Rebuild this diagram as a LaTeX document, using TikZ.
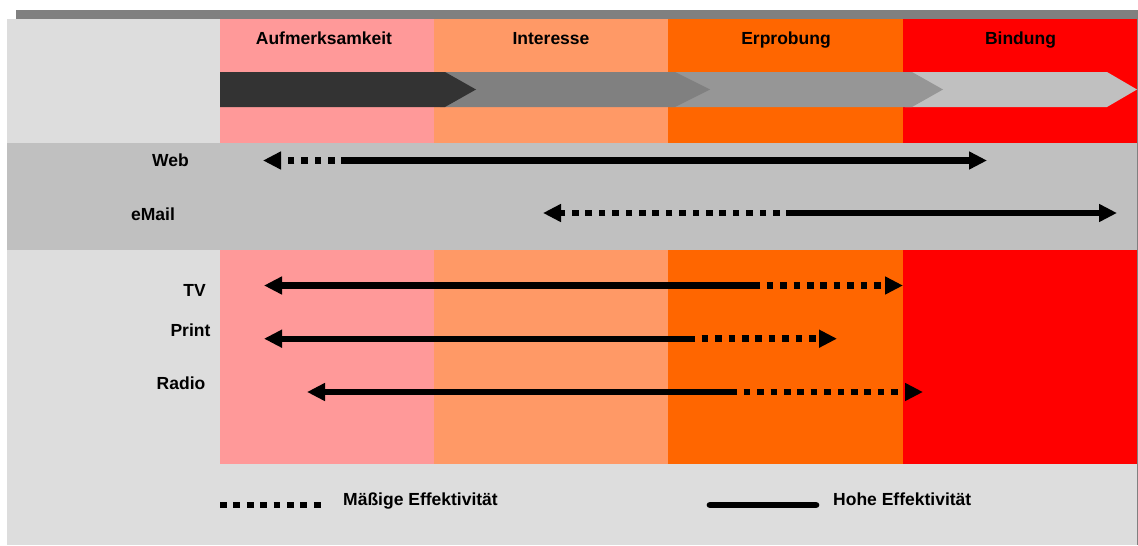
\documentclass[tikz,border=0pt]{standalone}
\usepackage{fontspec}
\setmainfont{Liberation Sans}
\usetikzlibrary{arrows.meta}

\definecolor{shadowgray}{HTML}{808080}
\definecolor{panelgray}{HTML}{DDDDDD}
\definecolor{bandgray}{HTML}{C0C0C0}
\definecolor{phaseA}{HTML}{FF9999}
\definecolor{phaseB}{HTML}{FF9966}
\definecolor{phaseC}{HTML}{FF6600}
\definecolor{phaseD}{HTML}{FF0000}
\definecolor{chevA}{HTML}{333333}
\definecolor{chevB}{HTML}{808080}
\definecolor{chevC}{HTML}{969696}
\definecolor{chevD}{HTML}{C0C0C0}

\tikzset{
  lbl/.style={font=\fontsize{17.5}{20}\selectfont\bfseries, inner sep=0pt, anchor=base},
  tip/.style={-{Triangle[length=18pt,width=17pt]}},
  strong/.style={line width=6.4pt, line cap=butt, draw=black},
  weak/.style={line width=6.6pt, line cap=butt, draw=black, dash pattern=on 6.7pt off 6.7pt},
  weakgap/.style={weak, dash phase=6.7pt},
}

\begin{document}
\begin{tikzpicture}[x=1pt, y=-1pt]
  \useasboundingbox (0,0) rectangle (1138,546);

  % panel with drop shadow
  \fill[shadowgray] (16,10) rectangle (1138,545);
  \fill[panelgray] (7,19) rectangle (1137,545);

  % phase columns
  \fill[phaseA] (220,19) rectangle (434,464);
  \fill[phaseB] (434,19) rectangle (668,464);
  \fill[phaseC] (668,19) rectangle (903,464);
  \fill[phaseD] (903,19) rectangle (1137,464);

  % band behind the online channels
  \fill[bandgray] (7,143) rectangle (1137,250);

  % chevron strip, drawn back to front
  \fill[chevD] (905,72) -- (1107,72) -- (1137,89.5) -- (1107,107) -- (905,107) -- cycle;
  \fill[chevC] (670,72) -- (912,72) -- (943,89.5) -- (912,107) -- (670,107) -- cycle;
  \fill[chevB] (440,72) -- (675,72) -- (710,89.5) -- (675,107) -- (440,107) -- cycle;
  \fill[chevA] (220,72) -- (445,72) -- (476,89.5) -- (445,107) -- (220,107) -- cycle;

  % phase headings
  \node[lbl] (hA) at (324,44) {Aufmerksamkeit};
  \node[lbl] (hB) at (551,44) {Interesse};
  \node[lbl] (hC) at (786,44) {Erprobung};
  \node[lbl] (hD) at (1020.5,44) {Bindung};

  % channel names
  \node[lbl] (web)   at (170.5,166.5) {Web};
  \node[lbl] (email) at (153,220) {eMail};
  \node[lbl] (tv)    at (194.5,296.5) {TV};
  \node[lbl] (print) at (190.5,336.5) {Print};
  \node[lbl] (radio) at (181,389.5) {Radio};

  % arrow end points and switch points
  \coordinate (webL) at (263,160.5);
  \coordinate (webM) at (348,160.5);
  \coordinate (webR) at (987,160.5);

  \coordinate (mailL) at (543,213);
  \coordinate (mailM) at (793,213);
  \coordinate (mailR) at (1117,213);

  \coordinate (tvL) at (264,285.5);
  \coordinate (tvM) at (760,285.5);
  \coordinate (tvR) at (903,285.5);

  \coordinate (printL) at (264,338.7);
  \coordinate (printM) at (695,338.7);
  \coordinate (printR) at (837,338.7);

  \coordinate (radioL) at (307,392);
  \coordinate (radioM) at (737,392);
  \coordinate (radioR) at (923,392);

  % Web
  \draw[weak, tip] (webM) -- (webL);
  \draw[strong, tip] (webM) -- (webR);
  % eMail
  \draw[weak, tip] (mailM) -- (mailL);
  \draw[strong, tip] (mailM) -- (mailR);
  % TV
  \draw[strong, tip] (tvM) -- (tvL);
  \draw[weakgap, tip] (tvM) -- (tvR);
  % Print
  \draw[strong, tip] (printM) -- (printL);
  \draw[weakgap, tip] (printM) -- (printR);
  % Radio
  \draw[strong, tip] (radioM) -- (radioL);
  \draw[weakgap, tip] (radioM) -- (radioR);

  % legend
  \coordinate (keyWeakA) at (220,505);
  \coordinate (keyWeakB) at (322,505);
  \coordinate (keyStrongA) at (710,505);
  \coordinate (keyStrongB) at (816,505);
  \draw[weak] (keyWeakA) -- (keyWeakB);
  \draw[line width=6.7pt, line cap=round] (keyStrongA) -- (keyStrongB);
  \node[lbl, anchor=base west] (keyWeak) at (343,505) {Mäßige Effektivität};
  \node[lbl, anchor=base west] (keyStrong) at (833,505) {Hohe Effektivität};
\end{tikzpicture}
\end{document}
